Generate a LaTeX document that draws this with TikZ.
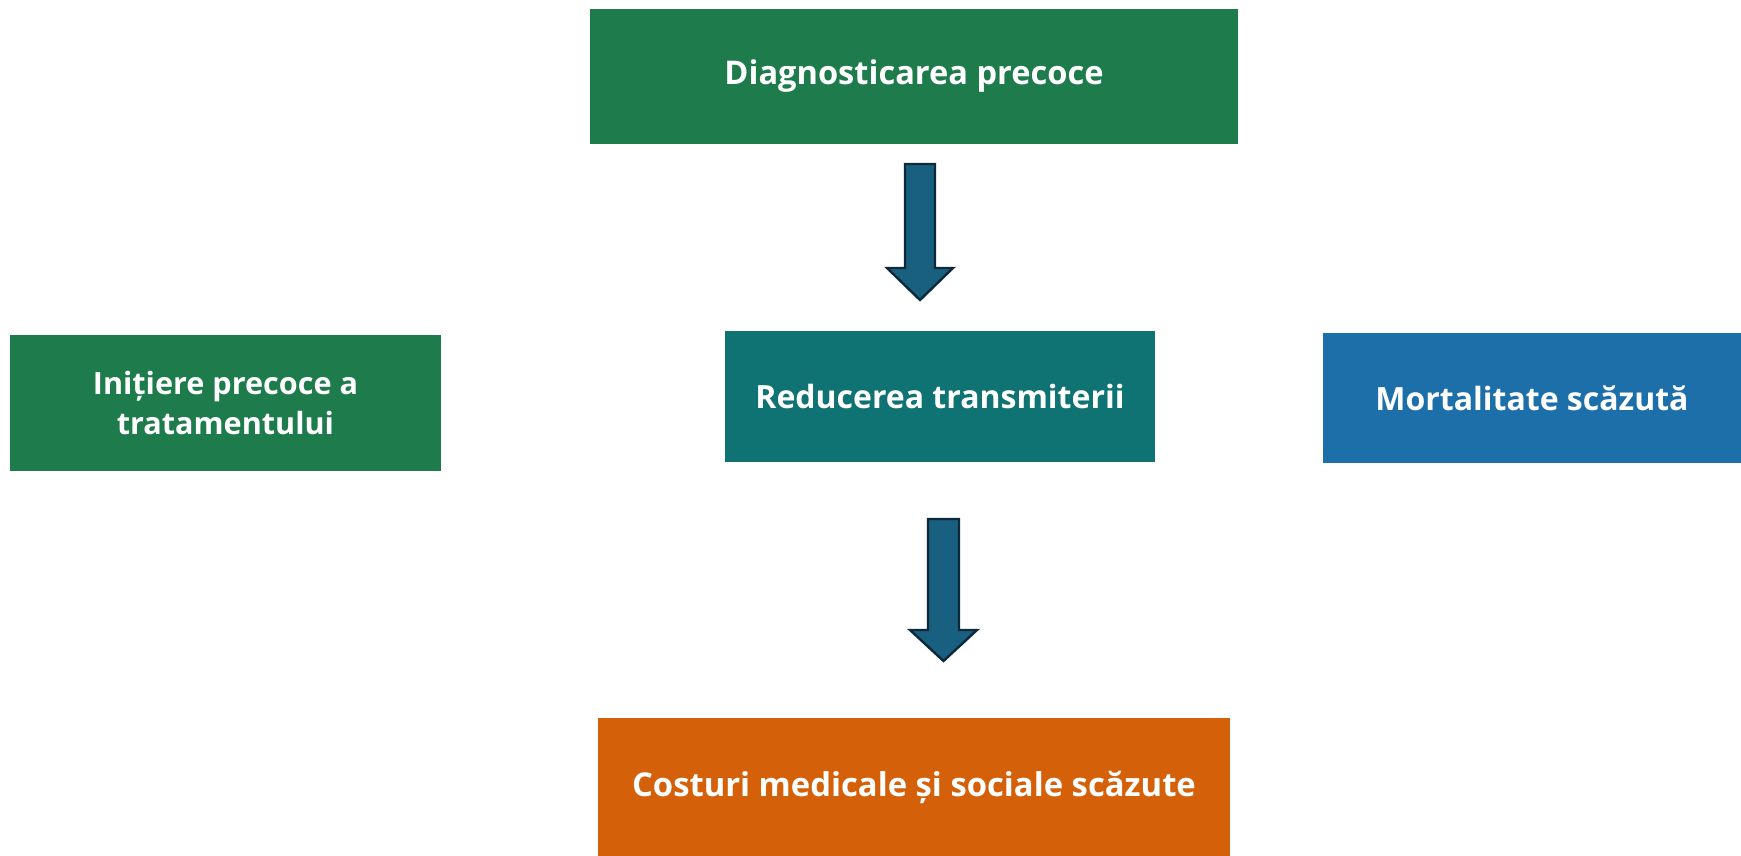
\documentclass[tikz,border=0pt]{standalone}
\usepackage{fontspec}
\setmainfont{Open Sans}
\definecolor{cgreen}{HTML}{1D7B4C}
\definecolor{cteal}{HTML}{0F7273}
\definecolor{cblue}{HTML}{1C6FA8}
\definecolor{corange}{HTML}{D4600A}
\definecolor{afill}{HTML}{185F80}
\definecolor{aline}{HTML}{0E2A3A}
\tikzset{
  box/.style={rectangle, inner sep=0pt, text=white, font=\fontsize{16}{20}\selectfont\bfseries, align=center},
  blockarrow/.style={fill=afill, draw=aline, line width=1.2pt, line join=miter},
}
\begin{document}
\begin{tikzpicture}[x=0.5pt,y=-0.5pt]
\useasboundingbox (0,0) rectangle (1741,856);
\node[box, fill=cgreen, minimum width=324pt, minimum height=67.5pt, font=\fontsize{16.3}{20}\selectfont\bfseries] (diag) at (914,76.5) {Diagnosticarea precoce};
\node[box, fill=cgreen, minimum width=215.5pt, minimum height=68pt, font=\fontsize{15.3}{20}\selectfont\bfseries] (init) at (225.5,403) {Inițiere precoce a\\tratamentului};
\node[box, fill=cteal, minimum width=215pt, minimum height=65.5pt] (red) at (940,396.5) {Reducerea transmiterii};
\node[box, fill=cblue, minimum width=209pt, minimum height=65pt] (mort) at (1532,398) {Mortalitate scăzută};
\node[box, fill=corange, minimum width=316pt, minimum height=69pt, font=\fontsize{16.4}{20}\selectfont\bfseries] (cost) at (914,787) {Costuri medicale și sociale scăzute};
\draw[blockarrow] (905,164) -- (935,164) -- (935,268) -- (953,268) -- (920,300) -- (887,268) -- (905,268) -- cycle;
\draw[blockarrow] (928,519) -- (959,519) -- (959,630) -- (977,630) -- (943.5,661) -- (910,630) -- (928,630) -- cycle;
\end{tikzpicture}
\end{document}
